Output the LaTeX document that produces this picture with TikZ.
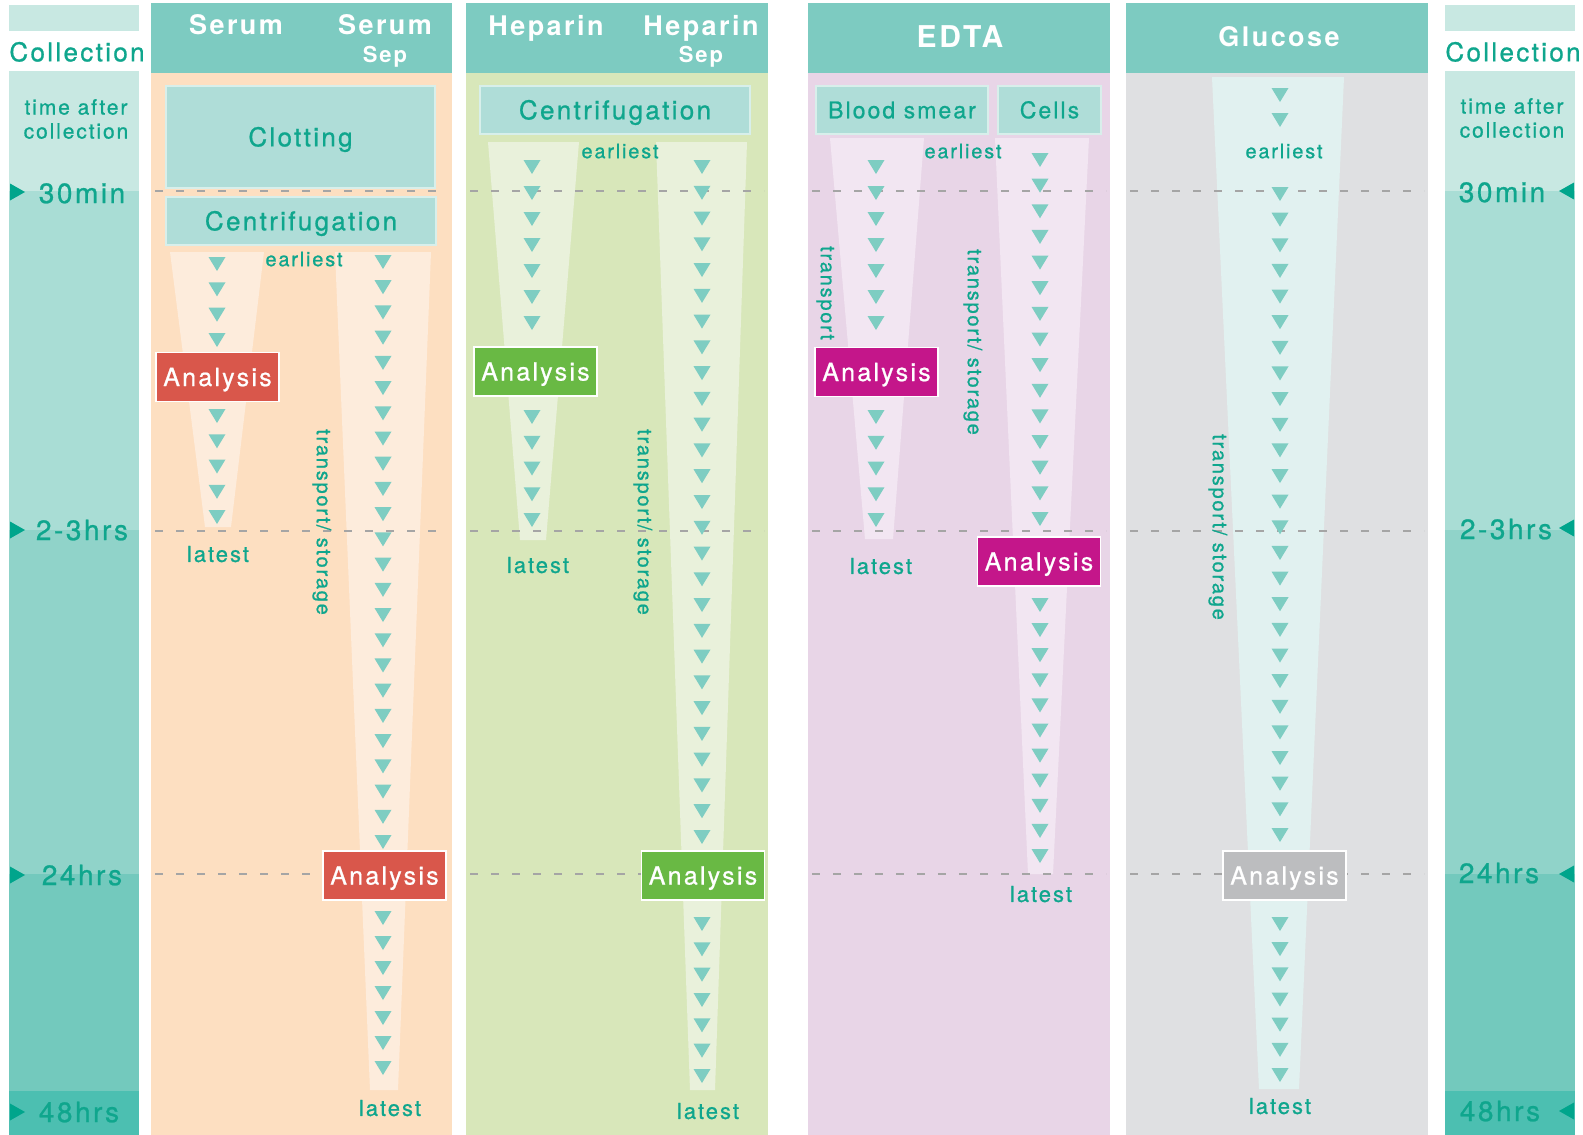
\documentclass[tikz,border=0pt]{standalone}
\usepackage{fontspec}
\newfontfamily\hv[LetterSpace=9, FakeBold=0.8]{TeX Gyre Heros}
\newfontfamily\hvb[LetterSpace=9]{TeX Gyre Heros}
\definecolor{hdrc}{HTML}{7DCBC1}
\definecolor{tealtx}{HTML}{0FA68D}
\definecolor{markc}{HTML}{00A58C}
\definecolor{trifill}{HTML}{7ECDC2}
\definecolor{procc}{HTML}{AFDDD8}
\definecolor{procb}{HTML}{D8EFEB}
\definecolor{serbg}{HTML}{FDDFC1}
\definecolor{serfn}{HTML}{FDECDC}
\definecolor{hepbg}{HTML}{D8E7BA}
\definecolor{hepfn}{HTML}{E9F1DB}
\definecolor{edtbg}{HTML}{E8D5E7}
\definecolor{edtfn}{HTML}{F2E6F2}
\definecolor{glubg}{HTML}{DFE0E2}
\definecolor{glufn}{HTML}{E1F1F0}
\definecolor{anred}{HTML}{D9574B}
\definecolor{angrn}{HTML}{69B944}
\definecolor{anmag}{HTML}{C4168A}
\definecolor{angry}{HTML}{BCBDBF}
\definecolor{dashc}{HTML}{A5A5A5}
\definecolor{colA}{HTML}{C8E8E2}
\definecolor{colB}{HTML}{A9DDD5}
\definecolor{colC}{HTML}{90D3C9}
\definecolor{colD}{HTML}{73C9BD}
\definecolor{colE}{HTML}{4CBFB1}
\newcommand\trirow[4]{\foreach \i in {1,...,#4}{\pgfmathsetmacro\yy{#2+((#3-#2)/max(#4-1,1))*(\i-1)}\fill[trifill] (#1-8.5,\yy-7) -- (#1+8.5,\yy-7) -- (#1,\yy+7) -- cycle;}}
\tikzset{
  fs/.style={font=\hv\fontsize{#1}{#1}\selectfont, text height=#1*0.72pt, text depth=0pt},
  txt/.style={inner sep=0pt, text=tealtx, fs=#1},
  txt/.default=20,
  hdrtxt/.style={inner sep=0pt, text=white, fs=#1, font=\hvb\bfseries\fontsize{#1}{#1}\selectfont},
  hdrtxt/.default=27,
  anbox/.style={fill=#1, draw=white, line width=1.5pt, minimum width=123pt, minimum height=49pt, inner sep=0pt, text=white, fs=25},
  procbox/.style={fill=procc, draw=procb, line width=1.5pt, inner sep=0pt, text=tealtx},
  dashline/.style={draw=dashc, line width=1.5pt, dash pattern=on 8pt off 13pt},
  rot/.style={txt=20, rotate=-90},
}
\begin{document}
\begin{tikzpicture}[x=1pt,y=-1pt]
\useasboundingbox (0,0) rectangle (1583,1135);
\fill[white] (0,0) rectangle (1583,1135);
% time columns
\foreach \l/\r in {9/139, 1445/1575}{
  \fill[colA] (\l,5) rectangle (\r,31);
  \fill[colA] (\l,71) rectangle (\r,191);
  \fill[colB] (\l,191) rectangle (\r,530);
  \fill[colC] (\l,530) rectangle (\r,874);
  \fill[colD] (\l,874) rectangle (\r,1091);
  \fill[colE] (\l,1091) rectangle (\r,1135);
}
% panels
\foreach \l/\r/\c in {151/452/serbg, 466/768/hepbg, 808/1110/edtbg, 1126/1428/glubg}{
  \fill[\c] (\l,73) rectangle (\r,1135);
  \fill[hdrc] (\l,3) rectangle (\r,73);
}
% funnels
\fill[serfn] (170,252) -- (264,252) -- (231,527) -- (205,527) -- cycle;
\fill[serfn] (335,252) -- (431,252) -- (398,1090) -- (370,1090) -- cycle;
\fill[hepfn] (488,142) -- (579,142) -- (546,540) -- (520,540) -- cycle;
\fill[hepfn] (656,142) -- (747,142) -- (715,1090) -- (690,1090) -- cycle;
\fill[edtfn] (830,138) -- (924,138) -- (893,539) -- (865,539) -- cycle;
\fill[edtfn] (995,138) -- (1089,138) -- (1053,874) -- (1028,874) -- cycle;
\fill[glufn] (1212,77) -- (1344,77) -- (1299,1089) -- (1259,1089) -- cycle;
% dashed time lines
\foreach \l/\r in {151/452, 466/768, 808/1110, 1126/1428}{
  \foreach \yy in {191,531,874}{
    \draw[dashline] (\l+4,\yy) -- (\r-4,\yy);
  }
}
% triangles
\trirow{217}{264}{340}{4}
\trirow{217}{416}{517}{5}
\trirow{383}{262}{842}{24}
\trirow{383}{918}{1068}{7}
\trirow{532}{167}{323}{7}
\trirow{532}{417}{520}{5}
\trirow{702}{167}{837}{27}
\trirow{702}{924}{1076}{7}
\trirow{876}{167}{323}{7}
\trirow{876}{417}{520}{5}
\trirow{1040}{160}{519}{15}
\trirow{1040}{605}{856}{11}
\trirow{1280}{95}{120}{2}
\trirow{1280}{194}{835}{26}
\trirow{1280}{924}{1075}{7}
% markers
\foreach \yy in {192,530,875,1112}{
  \fill[markc] (10,\yy-8.5) -- (25,\yy) -- (10,\yy+8.5) -- cycle;
}
\foreach \yy in {191,528,874,1111}{
  \fill[markc] (1574,\yy-8.5) -- (1559,\yy) -- (1574,\yy+8.5) -- cycle;
}
% headers
\node[hdrtxt] (hSer) at (236,25) {Serum};
\node[hdrtxt] (hSerS) at (385,25) {Serum};
\node[hdrtxt=22] (hSerSep) at (385,55) {Sep};
\node[hdrtxt] (hHep) at (546,26) {Heparin};
\node[hdrtxt] (hHepS) at (701,26) {Heparin};
\node[hdrtxt=22] (hHepSep) at (701,55) {Sep};
\node[hdrtxt=30] (hEdta) at (960,37) {EDTA};
\node[hdrtxt] (hGlu) at (1279,37) {Glucose};
% time column labels
\node[txt=26] (colL) at (77,52) {Collection};
\node[txt=26] (colR) at (1513,52) {Collection};
\node[txt=21] (taL1) at (76,107) {time after};
\node[txt=21] (taL2) at (76,131) {collection};
\node[txt=21] (taR1) at (1512,106) {time after};
\node[txt=21] (taR2) at (1512,130) {collection};
\node[txt=28] (tL1) at (82,193) {30min};
\node[txt=28] (tL2) at (82,530) {2-3hrs};
\node[txt=28] (tL3) at (82,875) {24hrs};
\node[txt=28] (tL4) at (79,1112) {48hrs};
\node[txt=28] (tR1) at (1502,192) {30min};
\node[txt=28] (tR2) at (1506,529) {2-3hrs};
\node[txt=28] (tR3) at (1499,873) {24hrs};
\node[txt=28] (tR4) at (1500,1111) {48hrs};
% process boxes
\node[procbox, minimum width=269pt, minimum height=102pt, fs=26] (clot) at (300.5,137) {Clotting};
\node[procbox, minimum width=270pt, minimum height=48pt, fs=26] (cenS) at (301,221) {Centrifugation};
\node[procbox, minimum width=270pt, minimum height=48pt, fs=26] (cenH) at (615,110) {Centrifugation};
\node[procbox, minimum width=172pt, minimum height=48pt, fs=23] (smear) at (902,110) {Blood smear};
\node[procbox, minimum width=103pt, minimum height=48pt, fs=23] (cells) at (1049.5,110) {Cells};
% analysis boxes
\node[anbox=anred] (aS1) at (217.5,377) {Analysis};
\node[anbox=anred] (aS2) at (384.5,875.5) {Analysis};
\node[anbox=angrn] (aH1) at (535.5,371.5) {Analysis};
\node[anbox=angrn] (aH2) at (703,875.5) {Analysis};
\node[anbox=anmag] (aE1) at (876.5,372) {Analysis};
\node[anbox=anmag] (aE2) at (1039,561.5) {Analysis};
\node[anbox=angry] (aG) at (1284.5,875.5) {Analysis};
% earliest / latest
\node[txt] (eS) at (304,259) {earliest};
\node[txt] (eH) at (620,151) {earliest};
\node[txt] (eE) at (963,151) {earliest};
\node[txt] (eG) at (1284,151) {earliest};
\node[txt=22] (lS1) at (218,554) {latest};
\node[txt=22] (lS2) at (390,1108) {latest};
\node[txt=22] (lH1) at (538,565) {latest};
\node[txt=22] (lH2) at (708,1111) {latest};
\node[txt=22] (lE1) at (881,566) {latest};
\node[txt=22] (lE2) at (1041,894) {latest};
\node[txt=22] (lG) at (1280,1106) {latest};
% rotated labels
\node[rot] (rS) at (324,522) {transport/ storage};
\node[rot] (rH) at (645,522) {transport/ storage};
\node[rot] (rE1) at (828,293) {transport};
\node[rot] (rE2) at (975,342) {transport/ storage};
\node[rot] (rG) at (1220,527) {transport/ storage};
\end{tikzpicture}
\end{document}
